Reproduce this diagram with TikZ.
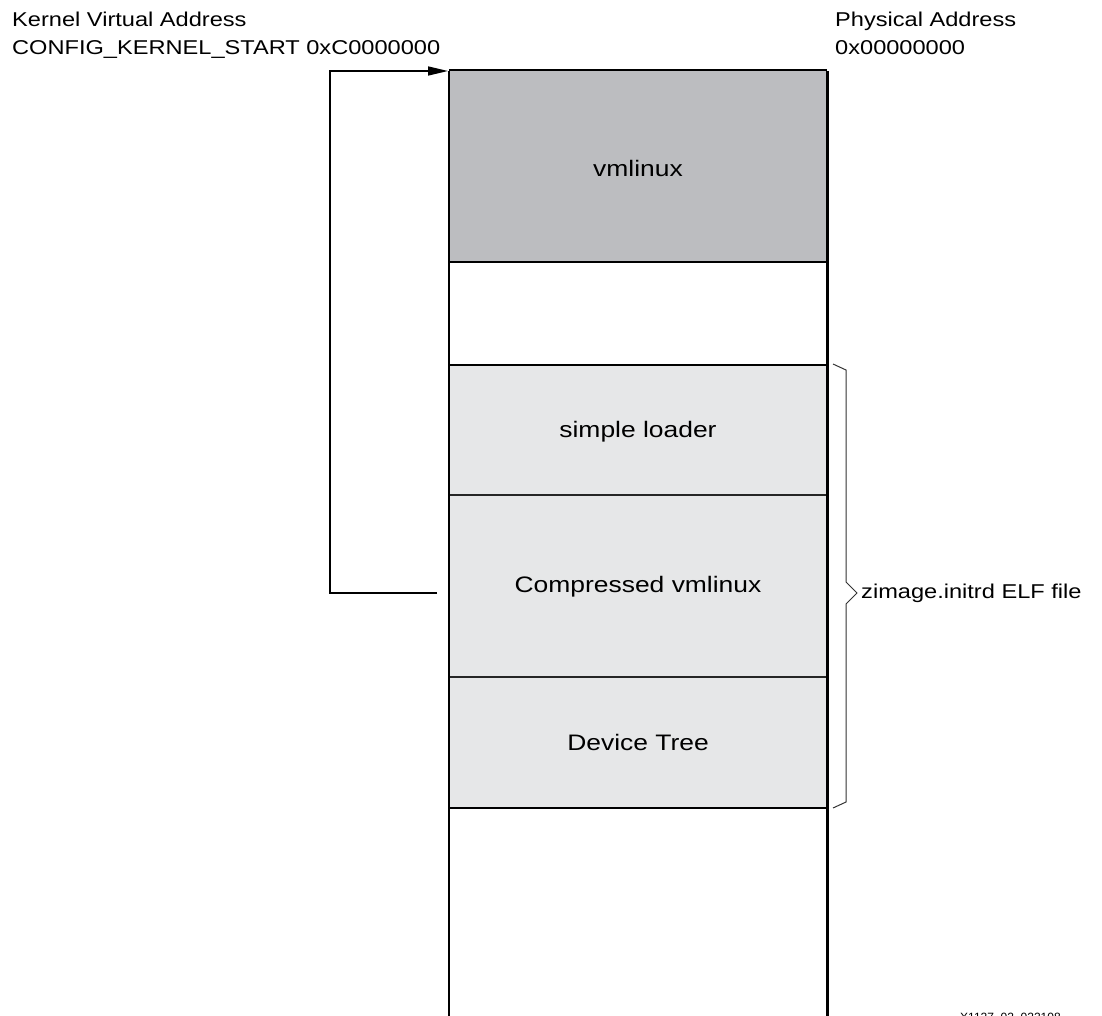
\documentclass[tikz,border=0pt]{standalone}
\usepackage{graphicx}
\usepackage{fontspec}
\setmainfont{Liberation Sans}
\usetikzlibrary{arrows.meta}
\newcommand\widetext[1]{\scalebox{1.18}[1]{#1}}
\definecolor{darkfill}{HTML}{BCBDC0}
\definecolor{lightfill}{HTML}{E6E7E8}
\begin{document}
\begin{tikzpicture}[x=1pt,y=-1pt,
  hdr/.style={inner sep=0pt,anchor=base west,font=\fontsize{20}{24}\selectfont},
  lbl/.style={inner sep=0pt,anchor=base,font=\fontsize{22.4}{26}\selectfont},
  seg/.style={draw=none,inner sep=0pt,minimum width=378pt,anchor=north west},
  thickln/.style={line width=2.4pt,black},
  thinln/.style={line width=1.5pt,black!85},
  arr/.style={line width=1.6pt,-{Triangle[length=20pt,width=9pt]}},
  bracel/.style={line width=1pt,black!80}]
\useasboundingbox (0,0) rectangle (1102,1016);
% segments
\node[seg,fill=darkfill,minimum height=192pt] (vm) at (449,70) {};
\node[seg,fill=white,minimum height=103pt] (gap) at (449,262) {};
\node[seg,fill=lightfill,minimum height=130pt] (sl) at (449,365) {};
\node[seg,fill=lightfill,minimum height=182pt] (cv) at (449,495) {};
\node[seg,fill=lightfill,minimum height=131pt] (dt) at (449,677) {};
\node[seg,fill=white,minimum height=220pt] (bot) at (449,808) {};
% labels
\node[lbl] (vmt) at (638,177) {\widetext{vmlinux}};
\node[lbl] (slt) at (638,437) {\widetext{simple loader}};
\node[lbl] (cvt) at (638,592) {\widetext{Compressed vmlinux}};
\node[lbl] (dtt) at (638,750) {\widetext{Device Tree}};
% lines
\draw[thinln] (cv.north west) -- (cv.north east);
\draw[thinln] (dt.north west) -- (dt.north east);
\draw[thickln] (gap.north west) -- (gap.north east);
\draw[thickln] (sl.north west) -- (sl.north east);
\draw[thickln] (bot.north west) -- (bot.north east);
\draw[thickln] (vm.north west) -- (vm.north east);
\draw[thickln] ([yshift=-1.2pt]vm.north west) -- (bot.south west);
\draw[thickln] ([yshift=-1.2pt]vm.north east) -- (bot.south east);
% header text
\node[hdr] (kva) at (12,27) {\widetext{Kernel Virtual Address}};
\node[hdr] (cks) at (12,55) {\widetext{CONFIG\_KERNEL\_START 0xC0000000}};
\node[hdr] (pa) at (835,27) {\widetext{Physical Address}};
\node[hdr] (pa0) at (835,55) {\widetext{0x00000000}};
% arrow
\coordinate (arrS) at (437,593);
\coordinate (arrL) at (330,593);
\coordinate (arrE) at (448,71);
\draw[arr] (arrS) -- (arrL) |- (arrE);
% brace
\coordinate (b1) at (833,364);
\coordinate (b2) at (846,370);
\coordinate (b3) at (846,582);
\coordinate (btip) at (857,593);
\coordinate (b4) at (846,604);
\coordinate (b5) at (846,802);
\coordinate (b6) at (833,808);
\draw[bracel,line join=miter] (b1) -- (b2) -- (b3) -- (btip) -- (b4) -- (b5) -- (b6);
\node[hdr,anchor=west] (zel) at (861,593) {\widetext{zimage.initrd ELF file}};
% figure id (clipped at page edge)
\begin{scope}
\clip (0,0) rectangle (1102,1016);
\node[inner sep=0pt,anchor=north west,font=\fontsize{12}{14}\selectfont] (fid) at (960,1012.5) {X1127\_02\_022108};
\end{scope}
\end{tikzpicture}
\end{document}
